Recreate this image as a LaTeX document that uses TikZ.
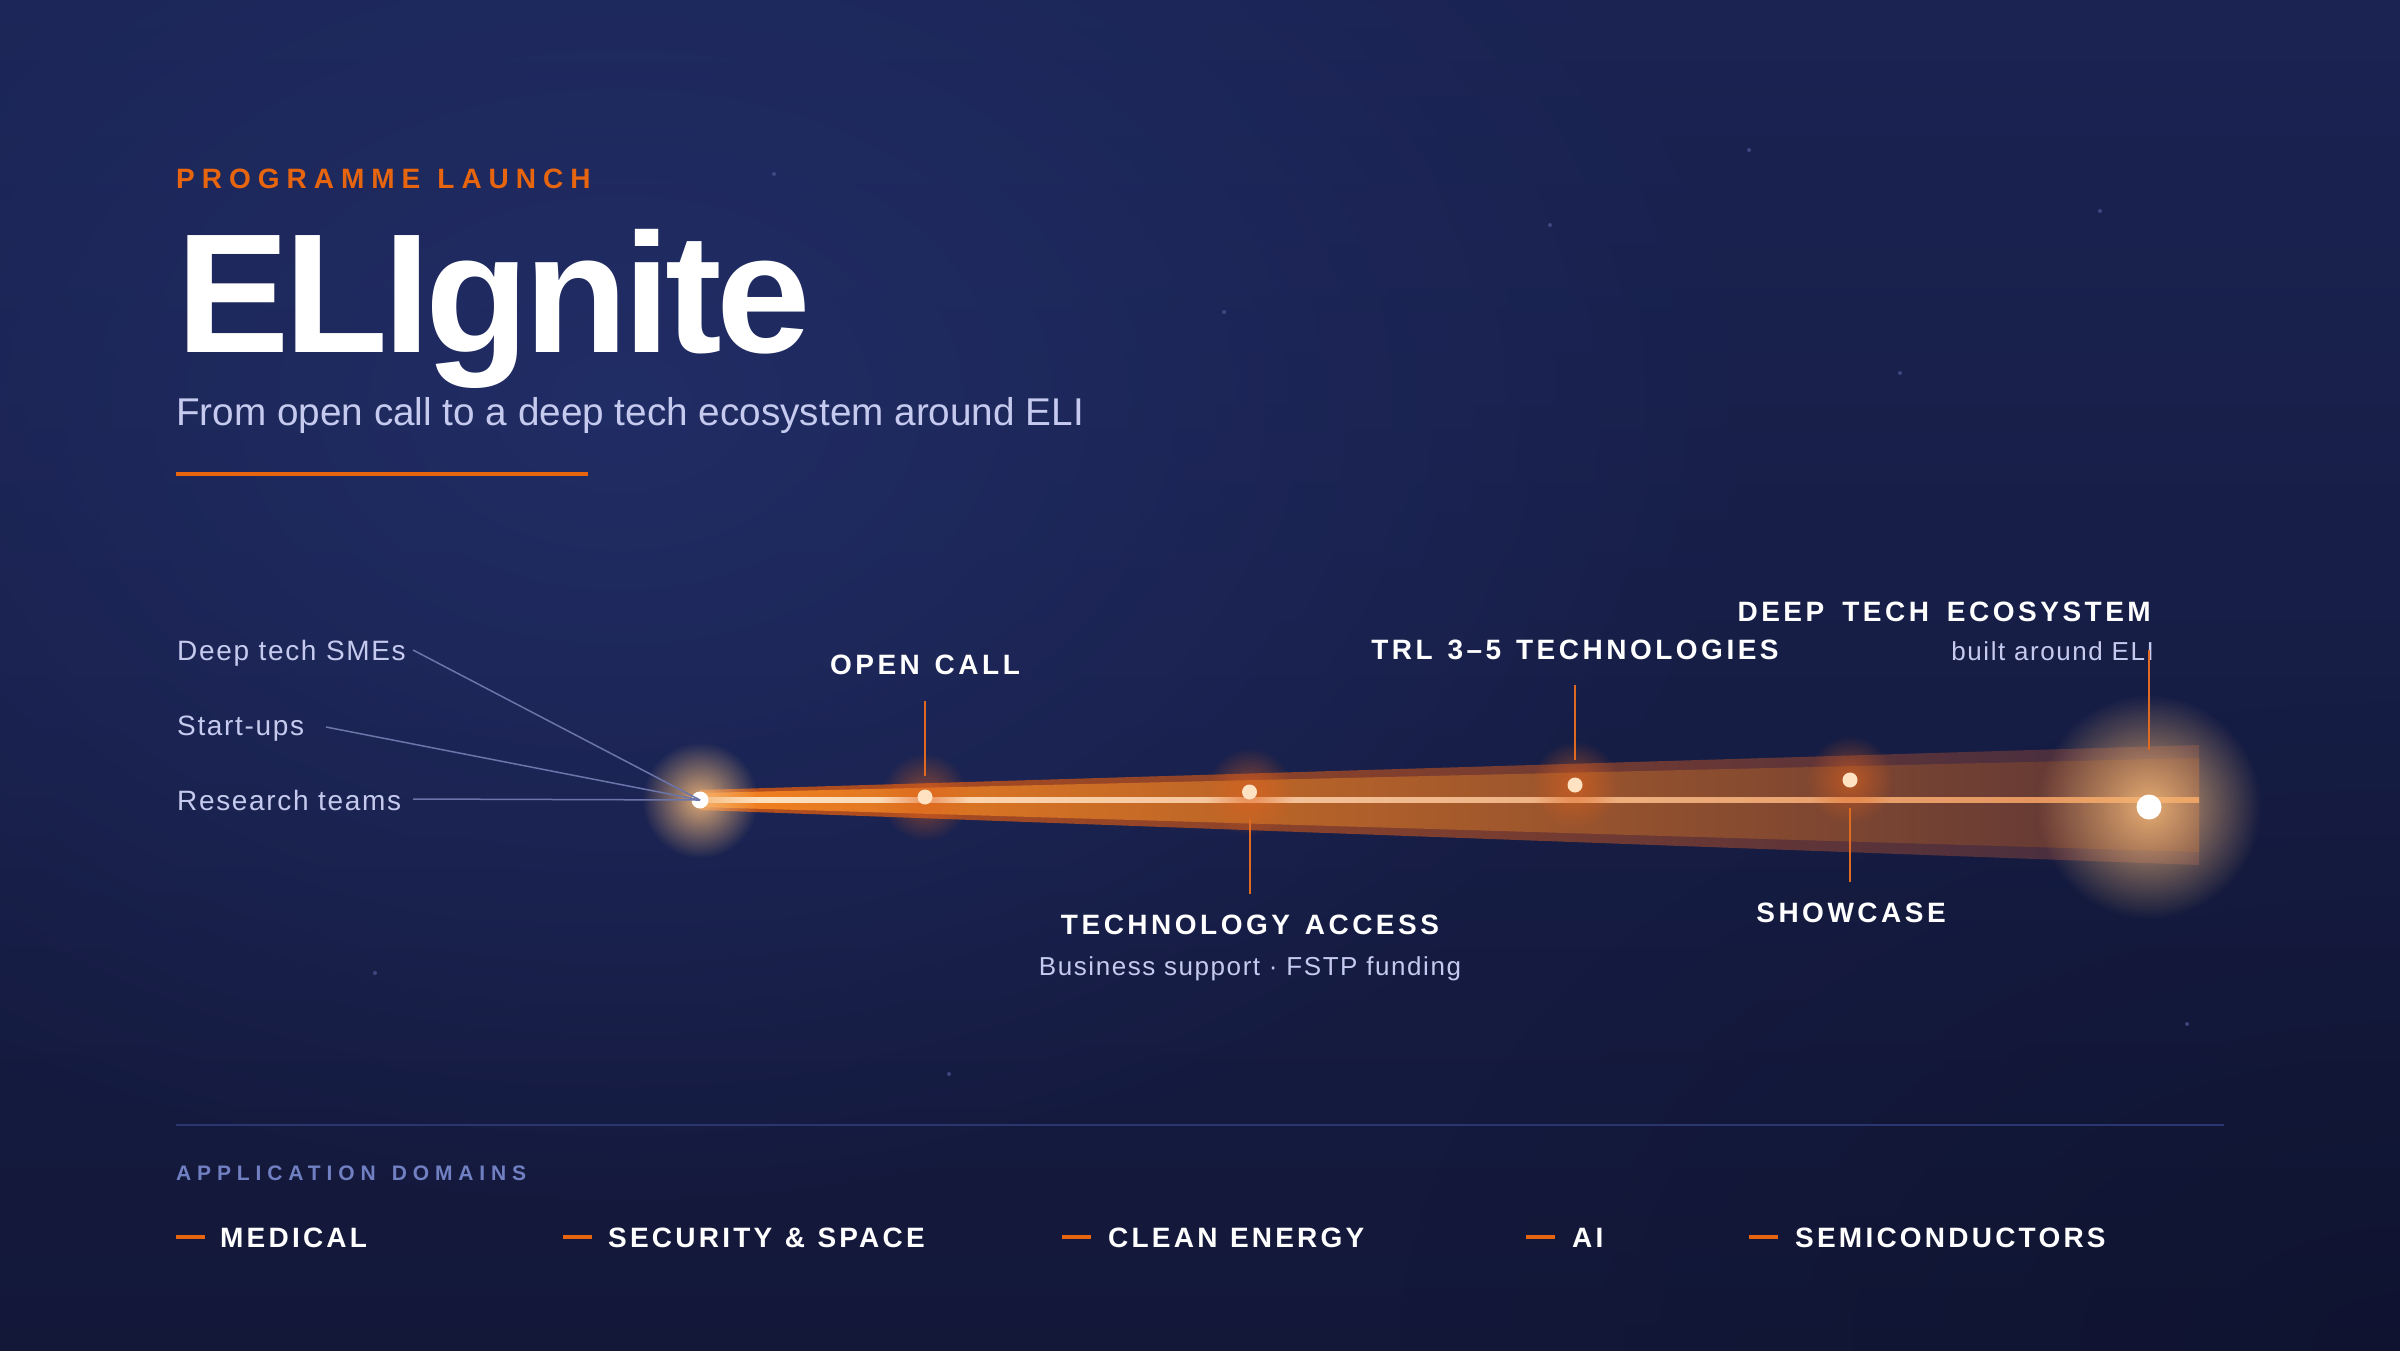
\documentclass[tikz,border=0pt]{standalone}
\usepackage{fontspec}
\setmainfont{Liberation Sans}
\usetikzlibrary{fadings}
\newcommand\wsp[1]{\hspace*{#1}}
\definecolor{bgTop}{HTML}{1A2352}
\definecolor{bgBot}{HTML}{131839}
\definecolor{bgGlow}{HTML}{24316E}
\definecolor{bgDark}{HTML}{0C1029}
\definecolor{orng}{HTML}{E8650F}
\definecolor{conncol}{HTML}{E06A1F}
\definecolor{lav}{HTML}{C5CAEE}
\definecolor{srcline}{HTML}{6B75AA}
\definecolor{divcol}{HTML}{2B3670}
\definecolor{domhead}{HTML}{7080C2}
\definecolor{star}{HTML}{4D5894}
\definecolor{outerL}{HTML}{B9501C}
\definecolor{outerM}{HTML}{8A3C22}
\definecolor{outerR}{HTML}{3F2B42}
\definecolor{innerL}{HTML}{F5821F}
\definecolor{innerM}{HTML}{D2621F}
\definecolor{innerR}{HTML}{573337}
\definecolor{coreL}{HTML}{FFE4C4}
\definecolor{coreM}{HTML}{F6C08C}
\definecolor{coreR}{HTML}{E28C52}
\definecolor{peach}{HTML}{FFE2C2}
\definecolor{glowW}{HTML}{F4B878}
\definecolor{glowO}{HTML}{E0621E}
\tikzfading[name=glowfade, inner color=transparent!0, outer color=transparent!100]
\begin{document}
\begin{tikzpicture}[x=1pt,y=-1pt,
  lab/.style={font=\fontsize{28}{30}\selectfont\bfseries\addfontfeature{LetterSpace=12.5}, text=white, inner sep=0pt},
  sublab/.style={font=\fontsize{26}{28}\selectfont\addfontfeature{LetterSpace=6}, text=lav, inner sep=0pt},
  srclab/.style={font=\fontsize{28}{30}\selectfont\addfontfeature{LetterSpace=6}, text=lav, inner sep=0pt, anchor=base west},
  src/.style={draw=srcline, line width=1.5pt},
  conn/.style={draw=conncol, line width=2pt},
  dom/.style={font=\fontsize{28}{30}\selectfont\bfseries\addfontfeature{LetterSpace=11.5}, text=white, inner sep=0pt, anchor=base west},
  domdash/.style={draw=orng, line width=4pt},
  smalldot/.style={circle, fill=peach, minimum size=15pt, inner sep=0pt},
  bigdot/.style={circle, fill=white, minimum size=#1, inner sep=0pt},
  stardot/.style={fill=star, opacity=0.7}
]
\useasboundingbox (0,0) rectangle (2400,1350);
% background
\begin{scope}
\clip (0,0) rectangle (2400,1350);
\shade[top color=bgTop, bottom color=bgBot] (0,0) rectangle (2400,1350);
\fill[bgGlow, path fading=glowfade, opacity=0.75] (620,400) ellipse (1150pt and 820pt);
\fill[bgDark, path fading=glowfade, opacity=0.55] (2400,1350) ellipse (1000pt and 650pt);
\end{scope}
% stars
\foreach \sx/\sy in {1749/150,1550/225,1224/312,2100/211,1900/373,774/174,375/973,949/1074,2187/1024}
  \fill[stardot] (\sx,\sy) circle (2pt);

% header
\node[font=\fontsize{28}{30}\selectfont\bfseries\addfontfeature{LetterSpace=25}, text=orng, inner sep=0pt, anchor=base west] (kicker) at (176,188) {PROGRAMME\wsp{17pt}LAUNCH};
\node[font=\fontsize{170}{170}\selectfont\bfseries\addfontfeature{LetterSpace=-3}, text=white, inner sep=0pt, anchor=base west] (title) at (176,352) {ELIgnite};
\node[font=\fontsize{38.7}{40}\selectfont, text=lav, inner sep=0pt, anchor=base west] (subtitle) at (176,425) {From open call to a deep tech ecosystem around ELI};
\coordinate (ul1) at (176,474);
\coordinate (ul2) at (588,474);
\draw[orng, line width=4pt] (ul1) -- (ul2);

% beam
\shade[left color=outerL, middle color=outerM, right color=outerR] (700,790) -- (2199,745) -- (2199,865) -- (700,810) -- cycle;
\shade[left color=innerL, middle color=innerM, right color=innerR] (700,793) -- (2199,758) -- (2199,852) -- (700,807) -- cycle;
\shade[left color=coreL, middle color=coreM, right color=coreR] (700,797.5) -- (2199,797.5) -- (2199,802.5) -- (700,802.5) -- cycle;

% glows
\fill[glowO, path fading=glowfade, opacity=0.6] (925,797) circle (44pt);
\fill[glowO, path fading=glowfade, opacity=0.6] (1249.5,792) circle (44pt);
\fill[glowO, path fading=glowfade, opacity=0.6] (1575,785) circle (44pt);
\fill[glowO, path fading=glowfade, opacity=0.6] (1850,780) circle (44pt);
\fill[glowW, path fading=glowfade, opacity=0.9] (700,800) circle (58pt);
\fill[glowW, path fading=glowfade, opacity=0.9] (2149,807) circle (112pt);

% dots
\node[bigdot=17pt] (p0) at (700,800) {};
\node[smalldot] (p1) at (925,797) {};
\node[smalldot] (p2) at (1249.5,792) {};
\node[smalldot] (p3) at (1575,785) {};
\node[smalldot] (p4) at (1850,780) {};
\node[bigdot=25pt] (p5) at (2149,807) {};

% sources
\node[srclab] (sme) at (177,660) {Deep tech SMEs};
\node[srclab] (stu) at (177,735) {Start-ups};
\node[srclab] (res) at (177,810) {Research teams};
\coordinate (sme-e) at (413,650);
\coordinate (stu-e) at (326,727);
\coordinate (res-e) at (413,799);
\draw[src] (sme-e) -- (p0.center);
\draw[src] (stu-e) -- (p0.center);
\draw[src] (res-e) -- (p0.center);

% stage labels
\node[lab, anchor=base] (oc) at (925,674) {OPEN\wsp{14.8pt}CALL};
\coordinate (oc-a) at (925,701);
\coordinate (oc-b) at (925,776);
\draw[conn] (oc-a) -- (oc-b);

\node[lab, anchor=base] (ta) at (1250,934) {TECHNOLOGY\wsp{14.8pt}ACCESS};
\node[sublab, anchor=base] (tasub) at (1250,975) {Business support · FSTP funding};
\coordinate (ta-a) at (1249.5,820);
\coordinate (ta-b) at (1249.5,894);
\draw[conn] (ta-a) -- (ta-b);

\node[lab, anchor=base] (trl) at (1575,659) {TRL\wsp{14.8pt}3–5\wsp{14.8pt}TECHNOLOGIES};
\coordinate (trl-a) at (1575,685);
\coordinate (trl-b) at (1575,760);
\draw[conn] (trl-a) -- (trl-b);

\node[lab, anchor=base] (sc) at (1851,922) {SHOWCASE};
\coordinate (sc-a) at (1850,808);
\coordinate (sc-b) at (1850,882);
\draw[conn] (sc-a) -- (sc-b);

\node[lab, anchor=base east] (eco) at (2151,621) {DEEP\wsp{18pt}TECH\wsp{18pt}ECOSYSTEM};
\node[sublab, anchor=base east] (ecosub) at (2154,660) {built around ELI};
\coordinate (eco-a) at (2149,650);
\coordinate (eco-b) at (2149,750);
\draw[conn] (eco-a) -- (eco-b);

% bottom
\coordinate (dv1) at (176,1125);
\coordinate (dv2) at (2224,1125);
\draw[divcol, line width=2pt] (dv1) -- (dv2);
\node[font=\fontsize{21}{23}\selectfont\bfseries\addfontfeature{LetterSpace=28}, text=domhead, inner sep=0pt, anchor=base west] (domh) at (176,1180) {APPLICATION\wsp{16pt}DOMAINS};

\foreach \dx/\tx/\nm/\txt in {176/220/d1/MEDICAL, 563/608/d2/{SECURITY\wsp{12.5pt}\&\wsp{12.5pt}SPACE}, 1062/1108/d3/{CLEAN\wsp{12.5pt}ENERGY}, 1526/1572/d4/AI, 1749/1795/d5/SEMICONDUCTORS}{
  \coordinate (\nm-a) at (\dx,1237);
  \coordinate (\nm-b) at (\dx+29,1237);
  \draw[domdash] (\nm-a) -- (\nm-b);
  \node[dom] (\nm) at (\tx,1247) {\txt};
}
\end{tikzpicture}
\end{document}
